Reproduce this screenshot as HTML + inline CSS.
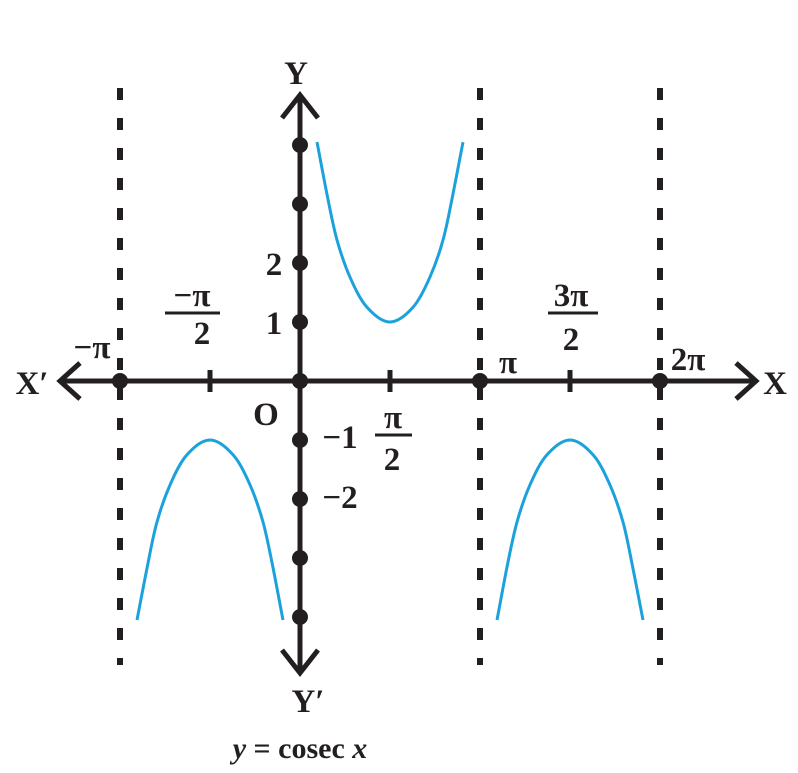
<!DOCTYPE html>
<html><head><meta charset="utf-8"><style>
body{margin:0;background:#fff}
svg text{font-family:"Liberation Serif",serif;font-weight:bold;fill:#231f20}
</style></head><body>
<svg width="798" height="768" viewBox="0 0 798 768">
<g id="dashes"></g>
<g id="axes"></g>
<g id="curves"></g>
<g id="dots"></g>
<g id="labels"></g>
</svg>
<script>
const asymptotes=[-Math.PI,Math.PI,2*Math.PI];
const yDots=[4,3,2,1,0,-1,-2,-3,-4];
const xDots=[-Math.PI,0,Math.PI,2*Math.PI];
const xTicks=[-Math.PI/2,Math.PI/2,3*Math.PI/2];
// branch samples (x in radians, y values)
const leftX=[-2.845,-2.66,-2.496,-2.268,-1.973,-1.571,-1.169,-0.873,-0.646,-0.48,-0.297];
const leftY=[-4.05,-3.12,-2.39,-1.76,-1.25,-1.0,-1.25,-1.76,-2.39,-3.12,-4.05];
const midX=[0.297,0.48,0.646,0.873,1.169,1.571,1.973,2.268,2.496,2.66,2.845];
const midY=[4.05,3.12,2.39,1.76,1.25,1.0,1.25,1.76,2.39,3.12,4.05];
const rightX=[3.439,3.62,3.788,4.015,4.311,4.712,5.114,5.409,5.637,5.80,5.986];
const rightY=[-4.05,-3.12,-2.39,-1.76,-1.25,-1.0,-1.25,-1.76,-2.39,-3.12,-4.05];
const ns="http://www.w3.org/2000/svg";
const X=v=>300+v*180/Math.PI;
const Y=v=>381-v*59;
function mk(t,a,p){const e=document.createElementNS(ns,t);for(const k in a)e.setAttribute(k,a[k]);document.getElementById(p).appendChild(e);return e;}
function smooth(xs,ys){
 const p=xs.map((x,i)=>[X(x),Y(ys[i])]);
 let d='M'+p[0][0].toFixed(1)+' '+p[0][1].toFixed(1);
 for(let i=0;i<p.length-1;i++){
  const p0=p[Math.max(i-1,0)],p1=p[i],p2=p[i+1],p3=p[Math.min(i+2,p.length-1)];
  const c1=[p1[0]+(p2[0]-p0[0])/6,p1[1]+(p2[1]-p0[1])/6];
  const c2=[p2[0]-(p3[0]-p1[0])/6,p2[1]-(p3[1]-p1[1])/6];
  d+=' C'+c1.map(v=>v.toFixed(1)).join(' ')+' '+c2.map(v=>v.toFixed(1)).join(' ')+' '+p2[0].toFixed(1)+' '+p2[1].toFixed(1);
 }
 return d;
}
asymptotes.forEach(a=>{
 const l=mk('line',{x1:X(a),x2:X(a),y1:88,y2:665,stroke:'#231f20','stroke-width':6,'stroke-dasharray':'12 18'},'dashes');
 
 
});
let e=mk('line',{x1:60,x2:756,y1:Y(0),y2:Y(0),stroke:'#231f20','stroke-width':5},'axes');

e=mk('line',{x1:X(0),x2:X(0),y1:94,y2:670,stroke:'#231f20','stroke-width':5},'axes');

e=mk('path',{d:'M80 363 L60 381 L80 399 M736 363 L756 381 L736 399 M282 118 L300 95 L318 118 M282 650 L300 673 L318 650',fill:'none',stroke:'#231f20','stroke-width':5},'axes');

xTicks.forEach(t=>{e=mk('line',{x1:X(t),x2:X(t),y1:Y(0)-11,y2:Y(0)+11,stroke:'#231f20','stroke-width':5},'axes');
 });
[[leftX,leftY,'left-branch'],[midX,midY,'middle-branch'],[rightX,rightY,'right-branch']].forEach(([xs,ys,n])=>{
 e=mk('path',{d:smooth(xs,ys),fill:'none',stroke:'#1ba1dc','stroke-width':3},'curves');
 
});
yDots.forEach(v=>{e=mk('circle',{cx:X(0),cy:Y(v),r:8,fill:'#231f20'},'dots');
 });
xDots.forEach(v=>{e=mk('circle',{cx:X(v),cy:Y(0),r:8,fill:'#231f20'},'dots');
 });
const labs=[['Y',296,84,'y-axis-label'],['Y′',308,712,'y-prime-label'],['X′',32,394,'x-prime-label'],['X',775,394,'x-axis-label'],
['−π',92,358,'neg-pi-label'],['π',508,373,'pi-label'],['2π',688,370,'two-pi-label'],['O',266,425,'origin-label'],
['2',274,275,'y-tick-2'],['1',274,334,'y-tick-1'],['−1',340,448,'y-tick-neg1'],['−2',340,508,'y-tick-neg2'],
['−π',192,306,'neg-half-pi-num'],['2',202,344,'neg-half-pi-den'],['π',393,428,'half-pi-num'],['2',392,470,'half-pi-den'],
['3π',571,306,'three-half-pi-num'],['2',571,350,'three-half-pi-den']];
labs.forEach(([t,x,y,n])=>{e=mk('text',{x:x,y:y,'font-size':33,'text-anchor':'middle'},'labels');e.textContent=t;
 });
[[165,220,313],[375,412,435],[548,598,313]].forEach(([a,b,y])=>{e=mk('line',{x1:a,x2:b,y1:y,y2:y,stroke:'#231f20','stroke-width':3},'labels');
 });
e=mk('text',{x:300,y:758,'font-size':30,'text-anchor':'middle'},'labels');
e.innerHTML='<tspan font-style="italic">y</tspan> = cosec <tspan font-style="italic">x</tspan>';

</script>
</body></html>
